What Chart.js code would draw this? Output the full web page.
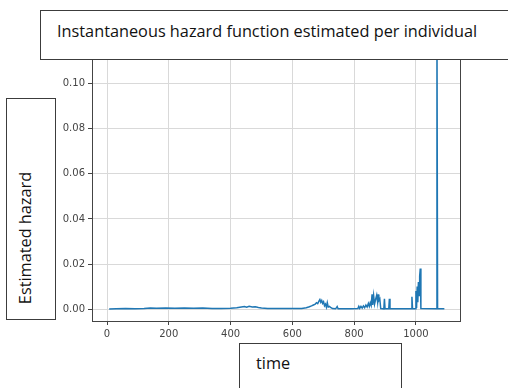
<!DOCTYPE html>
<html>
<head>
<meta charset="utf-8">
<script src="https://cdn.jsdelivr.net/npm/chart.js@4/dist/chart.umd.min.js"></script>
<style>
  body { margin: 0; background: #fff; }
  #wrap { position: relative; width: 508px; height: 388px; overflow: hidden; }
  canvas { position: absolute; left: 0; top: 0; }
  .box {
    position: absolute;
    background: #fff;
    border: 1px solid #3c3c3c;
    font-family: "Open Sans", sans-serif;
    font-size: 16.3px;
    color: #111;
    box-sizing: border-box;
  }
  #titleBox { left: 40px; top: 10px; width: 480px; height: 50px; }
  #titleBox span { position: absolute; left: 16px; top: 9px; white-space: nowrap; }
  #yBox { left: 6px; top: 98px; width: 50px; height: 222px; }
  #yBox span {
    position: absolute; left: 18px; top: 139px; white-space: nowrap;
    transform: translate(-50%, -50%) rotate(-90deg);
  }
  #xBox { left: 239px; top: 343px; width: 163px; height: 60px; }
  #xBox span { position: absolute; left: 16px; top: 8px; }
</style>
</head>
<body>
<div id="wrap">
  <canvas id="myChart" width="508" height="388"></canvas>
  <div class="box" id="titleBox"><span>Instantaneous hazard function estimated per individual</span></div>
  <div class="box" id="yBox"><span>Estimated hazard</span></div>
  <div class="box" id="xBox"><span>time</span></div>
</div>
<script>
// time points and hazard values
const hazardTime = [
  7, 30, 60, 90, 120, 140, 160, 190, 220, 250, 280, 310, 340, 370, 400,
  420, 435, 445, 452, 460, 470, 480, 490, 500, 520, 560, 600, 630,
  645, 655, 662, 668, 674, 678, 682, 686, 689, 692, 695, 698, 701, 704, 707, 710, 713, 716, 720, 725, 730,
  740, 745, 748, 760, 790,
  812, 815, 818, 822, 826, 830, 834, 838, 842, 846, 849, 852, 855, 858, 860, 863, 866, 870, 873, 876, 878, 880, 883, 886,
  896, 898, 900, 912, 914, 916,
  985, 987, 989,
  998, 1000, 1002, 1004, 1006, 1008, 1010, 1012, 1014, 1016,
  1066, 1068, 1070, 1092
];
const hazardValue = [
  0, 0.0001, 0.0002, 0.0001, 0.0003, 0.0005, 0.0004, 0.0005, 0.0004, 0.0005, 0.0004, 0.0005, 0.0003, 0.0002, 0.0004,
  0.0006, 0.0009, 0.0011, 0.0008, 0.0012, 0.0009, 0.001, 0.0007, 0.0005, 0.0003, 0.0002, 0.0002, 0.0003,
  0.0006, 0.001, 0.0014, 0.0018, 0.0022, 0.0028, 0.0024, 0.0035, 0.0042, 0.003, 0.0038, 0.0025, 0.0032, 0.0015, 0.0022, 0.0008, 0.0028, 0.0009, 0.0012, 0.0006, 0.0002,
  0.0001, 0.0011, 0.0001, 0.0001, 0.0001,
  0.0002, 0.0012, 0.0003, 0.0012, 0.0004, 0.0014, 0.0006, 0.0018, 0.0009, 0.0025, 0.0012, 0.0028, 0.0016, 0.0065, 0.0018, 0.006, 0.0022, 0.0046, 0.0062, 0.003, 0.0065, 0.0038, 0.0045, 0.0002,
  0.0001, 0.0046, 0.0001, 0.0001, 0.0046, 0.0001,
  0.0001, 0.0055, 0.0001,
  0.0001, 0.008, 0.0005, 0.01, 0.003, 0.012, 0.006, 0.0145, 0.018, 0.0002,
  0.0001, 0.13, 0.0001, 0.0001
];
const xTicks = [0, 200, 400, 600, 800, 1000];
const yTicks = [0, 0.02, 0.04, 0.06, 0.08, 0.10];

const points = hazardTime.map((t, i) => ({ x: t, y: hazardValue[i] }));

// matplotlib style: spines on all four sides
const frame = {
  id: 'frame',
  afterDraw(chart) {
    const { ctx, chartArea: a } = chart;
    ctx.save();
    ctx.strokeStyle = '#444';
    ctx.lineWidth = 1;
    ctx.strokeRect(a.left + 0.5, a.top + 0.5, a.right - a.left, a.bottom - a.top);
    ctx.restore();
  }
};

const tickFont = { family: 'DejaVu Sans', size: 10 };

new Chart(document.getElementById('myChart'), {
  type: 'line',
  plugins: [frame],
  data: {
    datasets: [{
      data: points,
      borderColor: '#1f77b4',
      borderWidth: 1.5,
      pointRadius: 0,
      tension: 0,
      fill: false,
    }]
  },
  options: {
    responsive: false,
    animation: false,
    layout: { padding: { left: 0, right: 48, top: 50, bottom: 0 } },
    plugins: {
      legend: { display: false },
      tooltip: { enabled: false },
    },
    scales: {
      x: {
        type: 'linear',
        min: -48.6,
        max: 1142.6,
        afterBuildTicks: s => { s.ticks = xTicks.map(v => ({ value: v })); },
        afterFit: s => { s.height = 67; },
        grid: { color: '#d9d9d9', tickColor: '#444', tickLength: 4 },
        border: { color: '#444' },
        ticks: { color: '#444', font: tickFont, padding: 3, maxRotation: 0, callback: v => String(v) },
      },
      y: {
        type: 'linear',
        min: -0.0053,
        max: 0.115,
        afterBuildTicks: s => { s.ticks = yTicks.map(v => ({ value: v })); },
        afterFit: s => { s.width = 92; },
        grid: { color: '#d9d9d9', tickColor: '#444', tickLength: 4 },
        border: { color: '#444' },
        ticks: { color: '#444', font: tickFont, padding: 3, callback: v => v.toFixed(2) },
      },
    },
  },
});
</script>
</body>
</html>
